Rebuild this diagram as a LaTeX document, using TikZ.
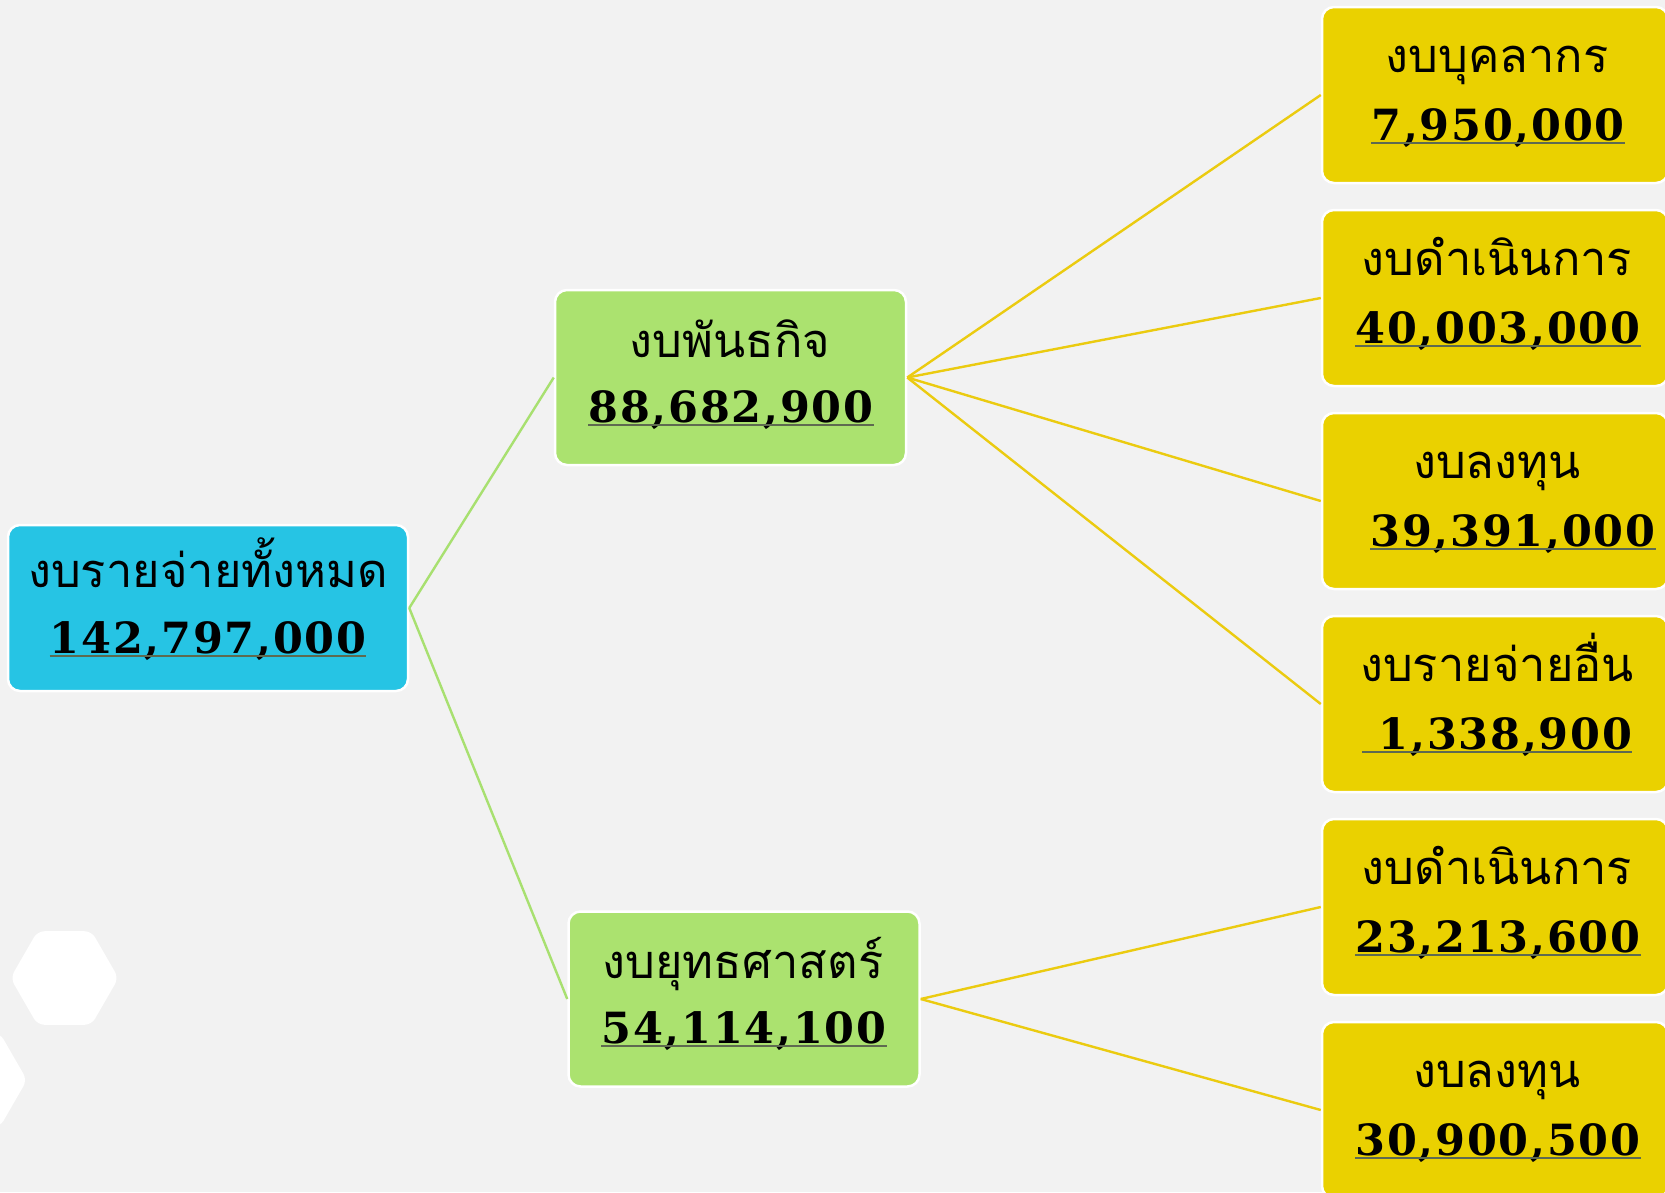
\documentclass[tikz,border=0pt]{standalone}
\usepackage{fontspec}
\newfontfamily\thaifont[Script=Thai]{Loma}
\newfontfamily\numfont[LetterSpace=4]{DejaVu Serif}
\definecolor{bgc}{HTML}{F2F2F2}
\definecolor{cyanbox}{HTML}{26C4E4}
\definecolor{greenbox}{HTML}{ABE26F}
\definecolor{yellowbox}{HTML}{EAD100}
\definecolor{greenline}{HTML}{A8E070}
\definecolor{yellowline}{HTML}{EBCB10}
\definecolor{ulc}{HTML}{5E6A50}
\tikzset{
  boxbase/.style={draw=white, line width=2.5pt, rounded corners=12pt, inner sep=0pt},
  rootbox/.style={boxbase, fill=cyanbox, minimum width=400pt, minimum height=166pt},
  greenbox/.style={boxbase, fill=greenbox, minimum width=351pt, minimum height=175pt},
  yellowbox/.style={boxbase, fill=yellowbox, minimum width=346pt, minimum height=176pt},
  thaitext/.style={inner sep=0pt, anchor=base, font=\thaifont\fontsize{47}{56}\selectfont},
  numtext/.style={inner sep=0pt, anchor=base, font=\numfont\bfseries\fontsize{43}{50}\selectfont},
  ul/.style={draw=ulc, line width=1.3pt},
  gline/.style={draw=greenline, line width=2.4pt},
  yline/.style={draw=yellowline, line width=2.4pt},
  hexa/.style={fill=white, rounded corners=7pt}
}
\begin{document}
\begin{tikzpicture}[x=1pt,y=-1pt]
\fill[bgc] (0,0) rectangle (1665,1192);
\useasboundingbox (0,0) rectangle (1665,1192);
% hexagons
\fill[hexa] (64.5,978) ++(54,0) -- ++(-27,46.8) -- ++(-54,0) -- ++(-27,-46.8) -- ++(27,-46.8) -- ++(54,0) -- cycle;
\fill[hexa] (-27,1080) ++(54,0) -- ++(-27,46.8) -- ++(-54,0) -- ++(-27,-46.8) -- ++(27,-46.8) -- ++(54,0) -- cycle;
% boxes
\node[rootbox] (root) at (208,608) {};
\node[greenbox] (g1) at (730.5,377.5) {};
\node[greenbox] (g2) at (744,999) {};
\node[yellowbox] (y1) at (1495,95) {};
\node[yellowbox] (y2) at (1495,298) {};
\node[yellowbox] (y3) at (1495,501) {};
\node[yellowbox] (y4) at (1495,704) {};
\node[yellowbox] (y5) at (1495,907) {};
\node[yellowbox] (y6) at (1495,1110) {};
% connectors
\draw[gline] (root.east) -- (g1.west);
\draw[gline] (root.east) -- (g2.west);
\foreach \t in {y1,y2,y3,y4}{\draw[yline] (g1.east) -- (\t.west);}
\foreach \t in {y5,y6}{\draw[yline] (g2.east) -- (\t.west);}
% texts
\node[thaitext] (t0) at (208,587) {งบรายจ่ายทั้งหมด};
\node[numtext] (n0) at (208,653) {142,797,000};
\node[thaitext] (t1) at (730,357) {งบพันธกิจ};
\node[numtext] (n1) at (731,422) {88,682,900};
\node[thaitext] (t2) at (743,978) {งบยุทธศาสตร์};
\node[numtext] (n2) at (744,1043) {54,114,100};
\node[thaitext] (t3) at (1497,72) {งบบุคลากร};
\node[numtext] (n3) at (1498,140) {7,950,000};
\node[thaitext] (t4) at (1497,275) {งบดำเนินการ};
\node[numtext] (n4) at (1498,343) {40,003,000};
\node[thaitext] (t5) at (1497,478) {งบลงทุน};
\node[numtext] (n5) at (1513,546) {39,391,000};
\node[thaitext] (t6) at (1497,681) {งบรายจ่ายอื่น};
\node[numtext] (n6) at (1497,749) {\ 1,338,900};
\node[thaitext] (t7) at (1497,884) {งบดำเนินการ};
\node[numtext] (n7) at (1498,952) {23,213,600};
\node[thaitext] (t8) at (1497,1087) {งบลงทุน};
\node[numtext] (n8) at (1498,1155) {30,900,500};
\foreach \n in {n0,n1,n2,n3,n4,n5,n6,n7,n8}{
  \draw[ul] ([yshift=-3pt]\n.base west) -- ([yshift=-3pt]\n.base east);
}
\end{tikzpicture}
\end{document}
